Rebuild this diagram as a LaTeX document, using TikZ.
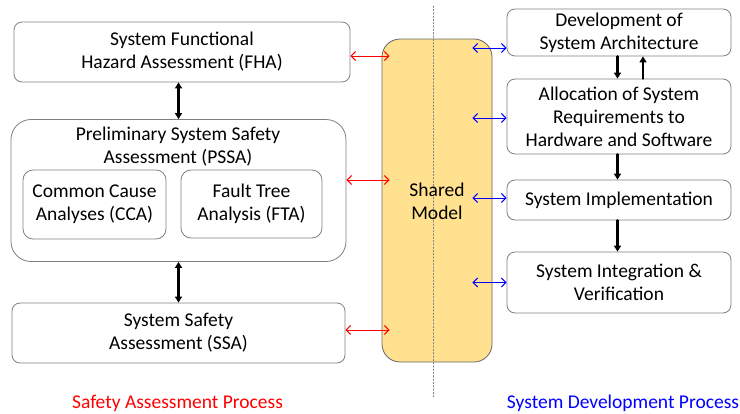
\documentclass[tikz,border=0pt]{standalone}
\usepackage{fontspec}
\setmainfont{Carlito}
\usetikzlibrary{arrows.meta}
\definecolor{modelfill}{HTML}{FFE18F}
\definecolor{boxline}{HTML}{7F7F7F}
\begin{document}
\begin{tikzpicture}[line cap=round,line join=round,x=1.0pt,y=-1.0pt,
    font=\fontsize{19.5}{23}\selectfont,
    procbox/.style={draw=boxline,line width=0.8pt,rounded corners=8pt,align=center,inner sep=0pt},
    blk/.style={line width=2.4pt,{Triangle[length=6pt,width=7pt]}-{Triangle[length=6pt,width=7pt]}},
    blkdown/.style={line width=2.4pt,-{Triangle[length=6pt,width=7pt]}},
    redarrow/.style={red,line width=1pt,{Straight Barb[length=4.5pt,width=9pt]}-{Straight Barb[length=4.5pt,width=9pt]}},
    bluearrow/.style={blue,line width=1pt,{Straight Barb[length=4.5pt,width=9pt]}-{Straight Barb[length=4.5pt,width=9pt]}}]
        \useasboundingbox (0,0) rectangle (740,413);
        % safety side
        \node[procbox,minimum width=336pt,minimum height=60pt] (fha) at (182,52) {System Functional\\Hazard Assessment (FHA)};
        \node[procbox,rounded corners=20pt,minimum width=335pt,minimum height=142pt] (pssa) at (178.5,190.5) {};
        \node[align=center,inner sep=0pt] (pssatitle) at (178,146.5) {Preliminary System Safety\\Assessment (PSSA)};
        \node[procbox,rounded corners=10pt,minimum width=143pt,minimum height=69pt] (cca) at (94.5,204.5) {Common Cause\\Analyses (CCA)};
        \node[procbox,rounded corners=10pt,minimum width=141pt,minimum height=68pt] (fta) at (251.5,204) {Fault Tree\\Analysis (FTA)};
        \node[procbox,minimum width=333pt,minimum height=60pt] (ssa) at (178.5,333) {System Safety\\Assessment (SSA)};
        \draw[blk] (fha.south -| pssa.north) -- (pssa.north);
        \draw[blk] (pssa.south) -- (ssa.north);
        % shared model and divider
        \coordinate (divtop) at (433,6);
        \coordinate (divbot) at (433,397);
        \node[procbox,fill=modelfill,draw=boxline!80!black,rounded corners=18pt,minimum width=110pt,minimum height=323pt] (model) at (437,200.5) {};
        \draw[boxline,line width=0.6pt,dash pattern=on 1.5pt off 1.8pt] (divtop) -- (divbot);
        \node[align=center,inner sep=0pt] (modeltext) at (437,201.5) {Shared\\Model};
        % development side
        \node[procbox,minimum width=224pt,minimum height=47pt] (arch) at (619,32.5) {Development of\\System Architecture};
        \node[procbox,minimum width=224pt,minimum height=75pt] (alloc) at (619,116.5) {Allocation of System\\Requirements to\\Hardware and Software};
        \node[procbox,minimum width=224pt,minimum height=40pt] (impl) at (619,200) {System Implementation};
        \node[procbox,minimum width=224pt,minimum height=61pt] (integ) at (619,282.5) {System Integration \&\\Verification};
        \draw[blkdown] ([xshift=-1.5pt]arch.south) -- ([xshift=-1.5pt]alloc.north);
        \draw[blkdown] ([xshift=24pt]alloc.north) -- ([xshift=24pt]arch.south);
        \draw[blkdown] ([xshift=-1.5pt]alloc.south) -- ([xshift=-1.5pt]impl.north);
        \draw[blkdown] ([xshift=-1.5pt]impl.south) -- ([xshift=-1.5pt]integ.north);
        % links to the shared model
        \coordinate (ml) at ([xshift=8pt]model.west);
        \coordinate (mr) at ([xshift=-20pt]model.east);
        \draw[redarrow] ([yshift=-4pt]fha.east) -- ([yshift=-4pt]fha.east -| ml);
        \draw[redarrow] ([yshift=10.5pt]pssa.east) -- ([yshift=10.5pt]pssa.east -| ml);
        \draw[redarrow] ([yshift=3pt]ssa.east) -- ([yshift=3pt]ssa.east -| ml);
        \draw[bluearrow] ([yshift=-15.5pt]arch.west -| mr) -- ([yshift=-15.5pt]arch.west);
        \draw[bluearrow] ([yshift=-1.5pt]alloc.west -| mr) -- ([yshift=-1.5pt]alloc.west);
        \draw[bluearrow] ([yshift=2pt]impl.west -| mr) -- ([yshift=2pt]impl.west);
        \draw[bluearrow] (integ.west -| mr) -- (integ.west);
        % process labels
        \node[red,inner sep=0pt] (safetylabel) at (177.5,403) {Safety Assessment Process};
        \node[blue,inner sep=0pt] (devlabel) at (623,403) {System Development Process};
\end{tikzpicture}
\end{document}
